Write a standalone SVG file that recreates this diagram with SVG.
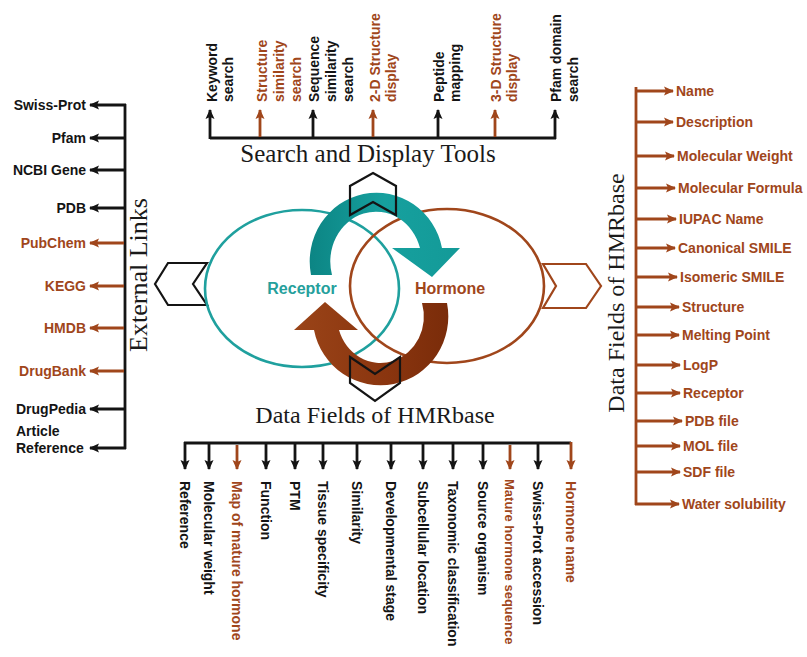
<svg xmlns="http://www.w3.org/2000/svg" width="807" height="657" viewBox="0 0 807 657">
<defs>
<style>
.lbl{font-family:"Liberation Sans",Arial,sans-serif;font-weight:bold;font-size:14px;}
.k{fill:#141414;}
.b{fill:#a0461b;}
.ttl{font-family:"Liberation Serif","Times New Roman",serif;fill:#1a1a1a;}
.ln{stroke:#141414;stroke-width:2.8;fill:none;}
.lnb{stroke:#a0461b;stroke-width:2.8;fill:none;}
.ak{marker-end:url(#mk);}
.ab{marker-end:url(#mb);}
.chev{fill:none;stroke:#141414;stroke-width:2.2;stroke-linejoin:miter;}
</style>
<marker id="mk" viewBox="0 0 10 10" refX="9" refY="5" markerWidth="10" markerHeight="10" markerUnits="userSpaceOnUse" orient="auto"><path d="M0,0.5 L10,5 L0,9.5 L2,5 z" fill="#141414"/></marker>
<marker id="mb" viewBox="0 0 10 10" refX="9" refY="5" markerWidth="10" markerHeight="10" markerUnits="userSpaceOnUse" orient="auto"><path d="M0,0.5 L10,5 L0,9.5 L2,5 z" fill="#a0461b"/></marker>
<linearGradient id="gt" x1="0" y1="0" x2="1" y2="0"><stop offset="0" stop-color="#0c8584"/><stop offset="0.5" stop-color="#16a09e"/><stop offset="1" stop-color="#139a98"/></linearGradient>
<linearGradient id="gb" x1="0" y1="0" x2="1" y2="0"><stop offset="0" stop-color="#9a4418"/><stop offset="0.6" stop-color="#8a350f"/><stop offset="1" stop-color="#7a2c0a"/></linearGradient>
</defs>
<rect width="807" height="657" fill="#ffffff"/>

<!-- center diagram -->
<g id="center">
<g id="chevron-left"><polygon class="chev" points="207,263 168,263 155,284 168,305 207,305 193,284"/></g>
<g id="chevron-right"><polygon class="chev" style="stroke:#a0461b" points="543,264 586,264 601,286 586,308 543,308 556,286"/></g>
<g id="receptor-ellipse"><ellipse cx="302" cy="288.5" rx="97" ry="78.5" fill="none" stroke="#1fa09e" stroke-width="2.6"/></g>
<g id="hormone-ellipse"><ellipse cx="447" cy="286" rx="97" ry="77" fill="none" stroke="#a0461b" stroke-width="2.6"/></g>
<g id="teal-arrow"><path d="M311,275 A66,68 0 1 1 442,248 L460,248 L432,277 L392,248 L420,248 A45,49 0 1 0 332,275 Z" fill="url(#gt)"/></g>
<g id="brown-arrow"><path d="M447,303 A67,68 0 0 1 314,330 L294,330 L325,302 L358,330 L339,330 A43,46 0 0 0 422,303 Z" fill="url(#gb)"/></g>
<g id="chevron-top"><polygon class="chev" points="373,173 396,186 396,215 373,202 350,215 350,186"/></g>
<g id="chevron-bottom"><polygon class="chev" points="350,357 375,374 400,357 400,383 375,401 350,383"/></g>
<g id="receptor-label"><text x="302" y="294" text-anchor="middle" style="font-family:'Liberation Sans',Arial,sans-serif;font-weight:bold;font-size:16px;fill:#25a09c">Receptor</text></g>
<g id="hormone-label"><text x="450" y="294" text-anchor="middle" style="font-family:'Liberation Sans',Arial,sans-serif;font-weight:bold;font-size:16px;fill:#a0461b">Hormone</text></g>
</g>

<!-- titles -->
<g id="title-search"><text class="ttl" x="368" y="162" text-anchor="middle" font-size="25">Search and Display Tools</text></g>
<g id="title-data-bottom"><text class="ttl" x="375" y="423" text-anchor="middle" font-size="24">Data Fields of HMRbase</text></g>
<g id="title-external"><text class="ttl" transform="translate(147,275) rotate(-90)" text-anchor="middle" font-size="26">External Links</text></g>
<g id="title-data-right"><text class="ttl" transform="translate(624,293) rotate(-90)" text-anchor="middle" font-size="24">Data Fields of HMRbase</text></g>

<!-- connectors -->
<g id="connectors">
<!-- top -->
<path class="ln" d="M210,138 H556"/>
<path class="ln ak" d="M210,139 V110"/>
<path class="lnb ab" d="M260,137 V110"/>
<path class="ln ak" d="M313,137 V110"/>
<path class="lnb ab" d="M373,137 V110"/>
<path class="ln ak" d="M438,137 V110"/>
<path class="lnb ab" d="M495,137 V110"/>
<path class="ln ak" d="M555,139 V110"/>
<!-- left -->
<path class="ln" d="M125,104 V449"/>
<path class="ln ak" d="M126,105 H90"/>
<path class="ln ak" d="M124,138 H90"/>
<path class="ln ak" d="M124,170 H90"/>
<path class="ln ak" d="M124,208 H90"/>
<path class="lnb ab" d="M124,243 H90"/>
<path class="lnb ab" d="M124,286 H90"/>
<path class="lnb ab" d="M124,328 H90"/>
<path class="lnb ab" d="M124,371 H90"/>
<path class="ln ak" d="M124,409 H90"/>
<path class="ln ak" d="M126,448 H90"/>
<!-- right -->
<path class="lnb" d="M636,87 V505"/>
<path class="lnb ab" d="M635,91 H673"/>
<path class="lnb ab" d="M637,122 H673"/>
<path class="lnb ab" d="M637,156 H674"/>
<path class="lnb ab" d="M637,188 H675"/>
<path class="lnb ab" d="M637,219 H676"/>
<path class="lnb ab" d="M637,248 H675"/>
<path class="lnb ab" d="M637,277 H677"/>
<path class="lnb ab" d="M637,307 H679"/>
<path class="lnb ab" d="M637,335 H679"/>
<path class="lnb ab" d="M637,365 H680"/>
<path class="lnb ab" d="M637,393 H680"/>
<path class="lnb ab" d="M637,421 H682"/>
<path class="lnb ab" d="M637,446 H680"/>
<path class="lnb ab" d="M637,472 H680"/>
<path class="lnb ab" d="M635,504 H679"/>
<!-- bottom -->
<path class="ln" d="M184,443 H571"/>
<path class="ln ak" d="M185,442 V469"/>
<path class="ln ak" d="M209,444 V469"/>
<path class="lnb ab" d="M237,445 V469"/>
<path class="ln ak" d="M266,444 V469"/>
<path class="ln ak" d="M295,444 V469"/>
<path class="ln ak" d="M323,444 V469"/>
<path class="ln ak" d="M357,444 V469"/>
<path class="ln ak" d="M391,444 V469"/>
<path class="ln ak" d="M423,444 V469"/>
<path class="ln ak" d="M453,444 V469"/>
<path class="ln ak" d="M483,444 V469"/>
<path class="lnb ab" d="M510,445 V469"/>
<path class="ln ak" d="M538,444 V469"/>
<path class="lnb ab" d="M571,442 V469"/>
</g>

<!-- top labels -->
<g id="tool-keyword"><text class="lbl k" transform="translate(217,102) rotate(-90)">Keyword<tspan x="0" dy="16">search</tspan></text></g>
<g id="tool-structure-similarity"><text class="lbl b" transform="translate(267,102) rotate(-90)">Structure<tspan x="0" dy="17">similarity</tspan><tspan x="0" dy="17">search</tspan></text></g>
<g id="tool-sequence-similarity"><text class="lbl k" transform="translate(319,102) rotate(-90)">Sequence<tspan x="0" dy="17">similarity</tspan><tspan x="0" dy="17">search</tspan></text></g>
<g id="tool-2d"><text class="lbl b" transform="translate(380,102) rotate(-90)">2-D Structure<tspan x="0" dy="16">display</tspan></text></g>
<g id="tool-peptide"><text class="lbl k" transform="translate(444,102) rotate(-90)">Peptide<tspan x="0" dy="16">mapping</tspan></text></g>
<g id="tool-3d"><text class="lbl b" transform="translate(501,102) rotate(-90)">3-D Structure<tspan x="0" dy="16">display</tspan></text></g>
<g id="tool-pfam"><text class="lbl k" transform="translate(561,102) rotate(-90)">Pfam domain<tspan x="0" dy="17">search</tspan></text></g>

<!-- left labels -->
<g id="ext-swissprot"><text class="lbl k" x="86" y="110" text-anchor="end">Swiss-Prot</text></g>
<g id="ext-pfam"><text class="lbl k" x="86" y="143" text-anchor="end">Pfam</text></g>
<g id="ext-ncbi"><text class="lbl k" x="86" y="175" text-anchor="end">NCBI Gene</text></g>
<g id="ext-pdb"><text class="lbl k" x="86" y="213" text-anchor="end">PDB</text></g>
<g id="ext-pubchem"><text class="lbl b" x="86" y="248" text-anchor="end">PubChem</text></g>
<g id="ext-kegg"><text class="lbl b" x="86" y="291" text-anchor="end">KEGG</text></g>
<g id="ext-hmdb"><text class="lbl b" x="86" y="333" text-anchor="end">HMDB</text></g>
<g id="ext-drugbank"><text class="lbl b" x="86" y="376" text-anchor="end">DrugBank</text></g>
<g id="ext-drugpedia"><text class="lbl k" x="86" y="414" text-anchor="end">DrugPedia</text></g>
<g id="ext-article"><text class="lbl k" x="16" y="436">Article<tspan x="16" dy="17">Reference</tspan></text></g>

<!-- right labels -->
<g id="df-name"><text class="lbl b" x="676" y="96">Name</text></g>
<g id="df-description"><text class="lbl b" x="676" y="127">Description</text></g>
<g id="df-molweight"><text class="lbl b" x="677" y="161">Molecular Weight</text></g>
<g id="df-molformula"><text class="lbl b" x="678" y="193">Molecular Formula</text></g>
<g id="df-iupac"><text class="lbl b" x="679" y="224">IUPAC Name</text></g>
<g id="df-canonical"><text class="lbl b" x="678" y="253">Canonical SMILE</text></g>
<g id="df-isomeric"><text class="lbl b" x="680" y="282">Isomeric SMILE</text></g>
<g id="df-structure"><text class="lbl b" x="682" y="312">Structure</text></g>
<g id="df-melting"><text class="lbl b" x="682" y="340">Melting Point</text></g>
<g id="df-logp"><text class="lbl b" x="683" y="370">LogP</text></g>
<g id="df-receptor"><text class="lbl b" x="683" y="398">Receptor</text></g>
<g id="df-pdb"><text class="lbl b" x="685" y="426">PDB file</text></g>
<g id="df-mol"><text class="lbl b" x="683" y="451">MOL file</text></g>
<g id="df-sdf"><text class="lbl b" x="683" y="477">SDF file</text></g>
<g id="df-water"><text class="lbl b" x="682" y="509">Water solubility</text></g>

<!-- bottom labels -->
<g id="bf-reference"><text class="lbl k" transform="translate(180,481) rotate(90)">Reference</text></g>
<g id="bf-molweight"><text class="lbl k" transform="translate(204,481) rotate(90)">Molecular weight</text></g>
<g id="bf-map"><text class="lbl b" transform="translate(232,481) rotate(90)">Map of mature hormone</text></g>
<g id="bf-function"><text class="lbl k" transform="translate(261,481) rotate(90)">Function</text></g>
<g id="bf-ptm"><text class="lbl k" transform="translate(290,481) rotate(90)">PTM</text></g>
<g id="bf-tissue"><text class="lbl k" transform="translate(318,481) rotate(90)">Tissue specificity</text></g>
<g id="bf-similarity"><text class="lbl k" transform="translate(352,481) rotate(90)">Similarity</text></g>
<g id="bf-developmental"><text class="lbl k" transform="translate(386,481) rotate(90)">Developmental stage</text></g>
<g id="bf-subcellular"><text class="lbl k" transform="translate(418,481) rotate(90)">Subcellular location</text></g>
<g id="bf-taxonomic"><text class="lbl k" transform="translate(448,481) rotate(90)">Taxonomic classification</text></g>
<g id="bf-source"><text class="lbl k" transform="translate(478,481) rotate(90)">Source organism</text></g>
<g id="bf-mature-seq"><text class="lbl b" transform="translate(505,479) rotate(90)" style="font-size:13px">Mature hormone sequence</text></g>
<g id="bf-swissprot"><text class="lbl k" transform="translate(533,481) rotate(90)">Swiss-Prot accession</text></g>
<g id="bf-hormone-name"><text class="lbl b" transform="translate(566,481) rotate(90)">Hormone name</text></g>
</svg>
